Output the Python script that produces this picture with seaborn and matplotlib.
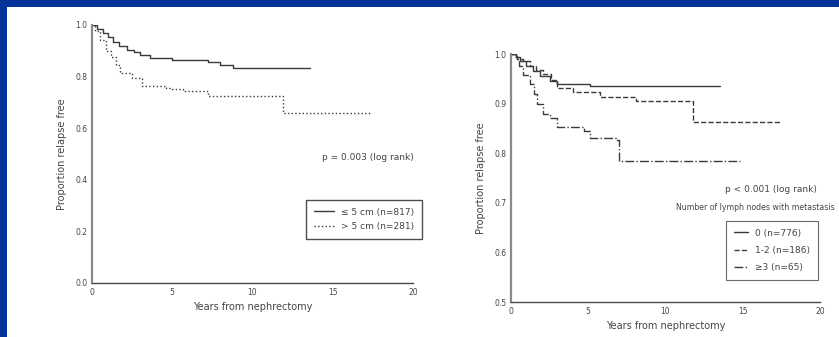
import matplotlib
matplotlib.use("Agg")
import matplotlib.pyplot as plt
import matplotlib.patches as mpatches
from matplotlib.lines import Line2D
import seaborn as sns
import pandas as pd

sns.set_style("white")
plt.rcParams['font.family'] = ['DejaVu Sans']

# ---- Data: left panel (tumour size) ----
left_labels = ["\u2264 5 cm (n=817)", "> 5 cm (n=281)"]
small_t = [0, 0.3, 0.7, 1.0, 1.3, 1.7, 2.2, 2.6, 3.0, 3.6, 5.0, 7.2, 8.0, 8.8, 13.6]
small_s = [1.0, 0.985, 0.97, 0.955, 0.935, 0.92, 0.905, 0.895, 0.884, 0.872, 0.866, 0.855, 0.845, 0.832, 0.832]
large_t = [0, 0.2, 0.5, 0.9, 1.2, 1.5, 1.75, 2.5, 3.1, 4.6, 5.0, 5.7, 7.2, 11.9, 17.4]
large_s = [1.0, 0.975, 0.94, 0.90, 0.875, 0.845, 0.815, 0.795, 0.762, 0.757, 0.752, 0.745, 0.723, 0.66, 0.66]
left_p = "p = 0.003 (log rank)"

# ---- Data: right panel (nodes with metastasis) ----
right_labels = ["0 (n=776)", "1-2 (n=186)", "\u22653 (n=65)"]
n0_t = [0, 0.3, 0.6, 1.0, 1.4, 1.9, 2.5, 3.0, 5.1, 13.5]
n0_s = [1.0, 0.993, 0.985, 0.975, 0.965, 0.955, 0.946, 0.940, 0.935, 0.935]
n12_t = [0, 0.4, 0.8, 1.2, 1.6, 2.1, 2.6, 3.0, 4.0, 5.75, 8.1, 11.8, 17.4]
n12_s = [1.0, 0.99, 0.985, 0.975, 0.968, 0.96, 0.948, 0.932, 0.923, 0.914, 0.906, 0.863, 0.863]
n3_t = [0, 0.3, 0.5, 0.8, 1.2, 1.5, 1.7, 2.1, 2.5, 3.0, 4.7, 5.1, 6.8, 7.0, 14.8]
n3_s = [1.0, 0.99, 0.975, 0.958, 0.94, 0.92, 0.90, 0.88, 0.87, 0.853, 0.845, 0.83, 0.826, 0.785, 0.785]
right_p = "p < 0.001 (log rank)"
right_title = "Number of lymph nodes with metastasis"

x_ticks = [0, 5, 10, 15, 20]
left_yticks = [0.0, 0.2, 0.4, 0.6, 0.8, 1.0]
right_yticks = [0.5, 0.6, 0.7, 0.8, 0.9, 1.0]
xlabel = "Years from nephrectomy"
ylabel = "Proportion relapse free"

W, H = 839, 337
fig = plt.figure(figsize=(W / 100, H / 100), dpi=100)
fig.patch.set_facecolor("#04339a")
fig.add_artist(mpatches.Rectangle((7 / W, 0), 1, 1 - 7 / H, transform=fig.transFigure,
                                  facecolor="white", edgecolor="none", zorder=0))

line_col = "#3a3a3a"
txt_col = "#444444"


def fx(px):
    return px / W


def fy(py):
    return 1 - py / H


axL = fig.add_axes([fx(92), fy(283), fx(413) - fx(92), fy(25) - fy(283)])
axR = fig.add_axes([fx(511), fy(302), fx(820) - fx(511), fy(54) - fy(302)])

for ax in (axL, axR):
    ax.set_facecolor("none")

series_L = [(small_t, small_s, "-"), (large_t, large_s, ":")]
handles_L = []
for (t, s, ls), lab in zip(series_L, left_labels):
    df = pd.DataFrame({"t": t, "s": s})
    sns.lineplot(data=df, x="t", y="s", ax=axL, drawstyle="steps-post",
                 color=line_col, linestyle=ls, linewidth=1.0, estimator=None, legend=False)
    handles_L.append(Line2D([], [], color=line_col, linestyle=ls, linewidth=1.0, label=lab))

series_R = [(n0_t, n0_s, "-"), (n12_t, n12_s, "--"), (n3_t, n3_s, "-.")]
handles_R = []
for (t, s, ls), lab in zip(series_R, right_labels):
    df = pd.DataFrame({"t": t, "s": s})
    sns.lineplot(data=df, x="t", y="s", ax=axR, drawstyle="steps-post",
                 color=line_col, linestyle=ls, linewidth=1.0, estimator=None, legend=False)
    handles_R.append(Line2D([], [], color=line_col, linestyle=ls, linewidth=1.0, label=lab))

for ax, yt, ylim in ((axL, left_yticks, (0, 1.0)), (axR, right_yticks, (0.5, 1.0))):
    ax.set_xlim(0, 20)
    ax.set_ylim(*ylim)
    ax.set_xticks(x_ticks)
    ax.set_yticks(yt)
    ax.set_yticklabels([f"{v:.1f}" for v in yt])
    ax.set_xticklabels([str(v) for v in x_ticks])
    for sp in ("top", "right"):
        ax.spines[sp].set_visible(False)
    ax.spines["left"].set_color("#8a8a8a")
    ax.spines["left"].set_linewidth(1.6)
    ax.spines["bottom"].set_color("#4a4a4a")
    ax.spines["bottom"].set_linewidth(1.0)
    ax.tick_params(axis="both", direction="inout", length=3, width=0.8, color="#555555",
                   labelsize=5.5, labelcolor=txt_col, pad=2)
    ax.set_xlabel(xlabel, fontsize=7, color=txt_col, labelpad=4)
    ax.set_ylabel(ylabel, fontsize=7, color=txt_col, labelpad=6)

fig.text(fx(368), fy(158), left_p, fontsize=6.5, color=txt_col, ha="center", va="center")
legL = fig.legend(handles=handles_L, loc="upper left", bbox_to_anchor=(fx(301), fy(195)),
                  bbox_transform=fig.transFigure, fontsize=6.5, frameon=True, fancybox=False,
                  handlelength=2.2, borderpad=0.9, labelspacing=0.6, handletextpad=0.8)
legL.get_frame().set_edgecolor("#222222")
legL.get_frame().set_linewidth(1.0)
for t in legL.get_texts():
    t.set_color(txt_col)

fig.text(fx(771), fy(190), right_p, fontsize=6.5, color=txt_col, ha="center", va="center")
fig.text(fx(835), fy(207), right_title, fontsize=5.6, color=txt_col, ha="right", va="center")
legR = fig.legend(handles=handles_R, loc="upper left", bbox_to_anchor=(fx(721), fy(216)),
                  bbox_transform=fig.transFigure, fontsize=6.5, frameon=True, fancybox=False,
                  handlelength=1.6, borderpad=0.9, labelspacing=0.9, handletextpad=0.8)
legR.get_frame().set_edgecolor("#444444")
legR.get_frame().set_linewidth(0.8)
for t in legR.get_texts():
    t.set_color(txt_col)

fig.savefig("out.png", dpi=100, facecolor=fig.get_facecolor())
